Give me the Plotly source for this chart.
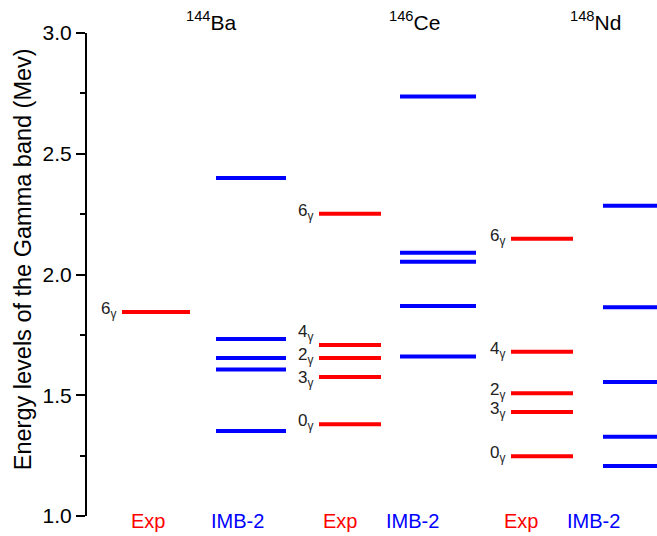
import plotly.graph_objects as go

# ---- data ----
nuclei = ["<sup>144</sup>Ba", "<sup>146</sup>Ce", "<sup>148</sup>Nd"]
columns = ["Exp", "IMB-2", "Exp", "IMB-2", "Exp", "IMB-2"]

ba_exp_E = [1.845]
ba_exp_J = ["6"]
ba_imb_E = [2.400, 1.733, 1.654, 1.607, 1.352]

ce_exp_E = [2.252, 1.708, 1.654, 1.576, 1.380]
ce_exp_J = ["6", "4", "2", "3", "0"]
ce_imb_E = [2.737, 2.090, 2.053, 1.870, 1.660]

nd_exp_E = [2.148, 1.680, 1.508, 1.431, 1.247]
nd_exp_J = ["6", "4", "2", "3", "0"]
nd_imb_E = [2.285, 1.864, 1.555, 1.328, 1.207]

y_ticks = [1.0, 1.5, 2.0, 2.5, 3.0]
y_title = "Energy levels of the Gamma band (Mev)"

# ---- layout helpers (horizontal positions on a hidden axis) ----
col_x = [69, 164, 263, 351, 455, 554]
half_w = [34, 35, 31, 38, 31, 38]
col_label_x = [61, 150, 253, 325, 434, 506]
title_x = [124, 327, 508]
label_shift = {(1, "4"): 10, (1, "3"): -4}

series = [
    (ba_exp_E, ba_exp_J, "#ff0000"),
    (ba_imb_E, None, "#0000ff"),
    (ce_exp_E, ce_exp_J, "#ff0000"),
    (ce_imb_E, None, "#0000ff"),
    (nd_exp_E, nd_exp_J, "#ff0000"),
    (nd_imb_E, None, "#0000ff"),
]

FONT = "Arial, 'Liberation Sans', sans-serif"
fig = go.Figure()
annotations = []

for i, (E, J, color) in enumerate(series):
    xs, ys = [], []
    for e in E:
        xs += [col_x[i] - half_w[i], col_x[i] + half_w[i], None]
        ys += [e, e, None]
    fig.add_trace(go.Scatter(x=xs, y=ys, mode="lines",
                             line=dict(color=color, width=4),
                             hoverinfo="skip", showlegend=False))
    if J is not None:
        for e, j in zip(E, J):
            annotations.append(dict(
                x=col_x[i] - half_w[i], y=e, xref="x", yref="y",
                text=f"{j}<sub>γ</sub>", showarrow=False,
                xanchor="right", yanchor="middle", xshift=-4,
                yshift=2 + label_shift.get((i // 2, j), 0),
                font=dict(family=FONT, size=17, color="#222222")))
    annotations.append(dict(
        x=col_label_x[i], y=1.0, xref="x", yref="y", text=columns[i],
        showarrow=False, xanchor="center", yanchor="middle", yshift=-5,
        font=dict(family=FONT, size=20, color=color)))

for k, name in enumerate(nuclei):
    annotations.append(dict(
        x=title_x[k], y=3.0, xref="x", yref="y", text=name,
        showarrow=False, xanchor="center", yanchor="middle", yshift=12,
        font=dict(family=FONT, size=21, color="black")))

# y-axis title (placed as rotated annotation, slightly above centre as in reference)
annotations.append(dict(
    x=-0.112, y=0.532, xref="paper", yref="paper", text=y_title,
    textangle=-90, showarrow=False, xanchor="center", yanchor="middle",
    font=dict(family=FONT, size=23.5, color="black")))

fig.update_layout(
    width=657, height=536,
    margin=dict(l=87, r=0, t=33, b=20),
    paper_bgcolor="white", plot_bgcolor="white",
    annotations=annotations,
    xaxis=dict(range=[0, 570], visible=False, fixedrange=True),
    yaxis=dict(
        range=[1.0, 3.0], tickvals=y_ticks, automargin=False,
        ticktext=[f"{v:.1f}" for v in y_ticks],
        ticks="outside", ticklen=9, tickwidth=2, tickcolor="black",
        minor=dict(dtick=0.25, ticks="outside", ticklen=5, tickwidth=2,
                   tickcolor="black", showgrid=False),
        showline=True, linewidth=2, linecolor="black",
        showgrid=False, zeroline=False, fixedrange=True,
        tickfont=dict(family=FONT, size=21, color="black"),
    ),
)

fig.write_html("out.html",
               config={"displayModeBar": False, "staticPlot": True},
               post_script="document.body.style.margin='0';document.body.style.overflow='hidden';")
